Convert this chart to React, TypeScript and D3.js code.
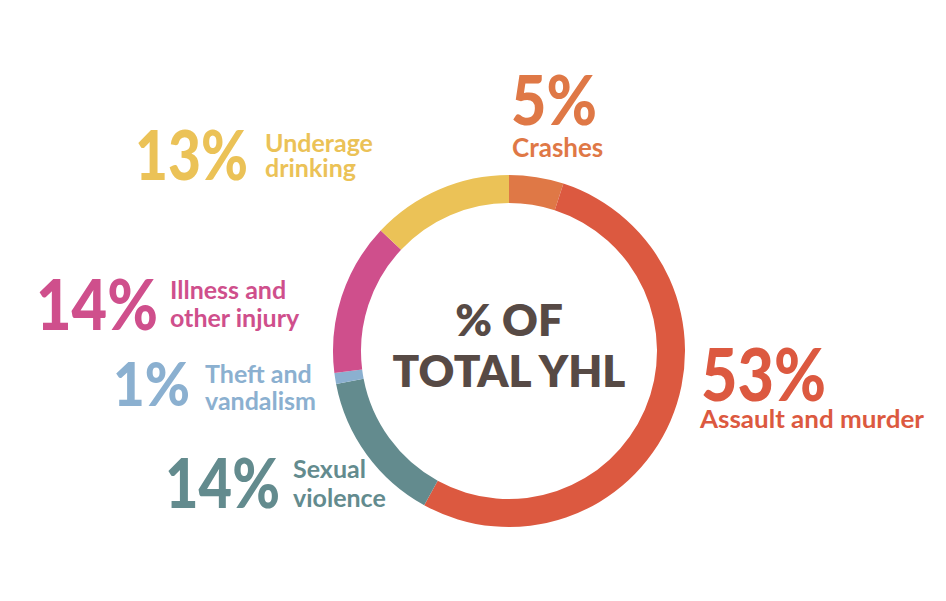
import React from "react";
import * as d3 from "d3";

const categories = ["Crashes", "Assault and murder", "Sexual violence", "Theft and vandalism", "Illness and other injury", "Underage drinking"];
const values = [5, 53, 14, 1, 14, 13];
const percentLabels = ["5%", "53%", "14%", "1%", "14%", "13%"];
const labelLines = [["Crashes"], ["Assault and murder"], ["Sexual", "violence"], ["Theft and", "vandalism"], ["Illness and", "other injury"], ["Underage", "drinking"]];
const colors = ["#DF7846", "#DC5940", "#638B8E", "#8BB0D0", "#CF4F8C", "#EBC257"];
const centerLines = ["% OF", "TOTAL YHL"];

// layout: percent text position/size/width and label positions
const layout = [
  { px: 511, py: 125, ps: 68, pw: 86, lx: 512, ly: 157, ls: 26, lh: 27, lw: 0 },
  { px: 701, py: 401, ps: 72, pw: 125, lx: 700, ly: 428, ls: 25, lh: 27, lw: 224 },
  { px: 165, py: 508, ps: 68, pw: 115, lx: 293, ly: 478, ls: 25, lh: 29, lw: 0 },
  { px: 113, py: 406, ps: 60, pw: 77, lx: 205, ly: 383, ls: 25, lh: 27, lw: 0 },
  { px: 36, py: 330, ps: 70, pw: 122, lx: 170, ly: 299, ls: 25, lh: 28, lw: 0 },
  { px: 135, py: 180, ps: 68, pw: 113, lx: 265, ly: 152, ls: 25, lh: 25, lw: 0 },
];

const W = 946, H = 601;
const cx = 509, cy = 351, outerR = 176, innerR = 148;
const FONT = "Lato, 'Open Sans', sans-serif";

export default function App() {
  const pie = d3.pie<number>().value((d) => d).sort(null)(values);
  const arc = d3.arc<d3.PieArcDatum<number>>().innerRadius(innerR).outerRadius(outerR);
  return (
    <svg width={W} height={H} style={{ position: "absolute", left: 0, top: 0, background: "#fff" }} fontFamily={FONT}>
      <g transform={`translate(${cx},${cy})`}>
        {pie.map((p, i) => (
          <path key={categories[i]} d={arc(p) || ""} fill={colors[i]} />
        ))}
        {centerLines.map((t, i) => (
          <text key={t} x={0} y={-15 + i * 51} textAnchor="middle" fontSize={44} fontWeight={800} fill="#574A45">{t}</text>
        ))}
      </g>
      {layout.map((l, i) => (
        <g key={i} fill={colors[i]}>
          <text x={l.px} y={l.py} fontSize={l.ps} fontWeight={900} textLength={l.pw} lengthAdjust="spacingAndGlyphs">{percentLabels[i]}</text>
          {labelLines[i].map((line, j) => (
            <text key={j} x={l.lx} y={l.ly + j * l.lh} fontSize={l.ls} fontWeight={700}
              {...(l.lw ? { textLength: l.lw, lengthAdjust: "spacingAndGlyphs" } : {})}>{line}</text>
          ))}
        </g>
      ))}
    </svg>
  );
}
